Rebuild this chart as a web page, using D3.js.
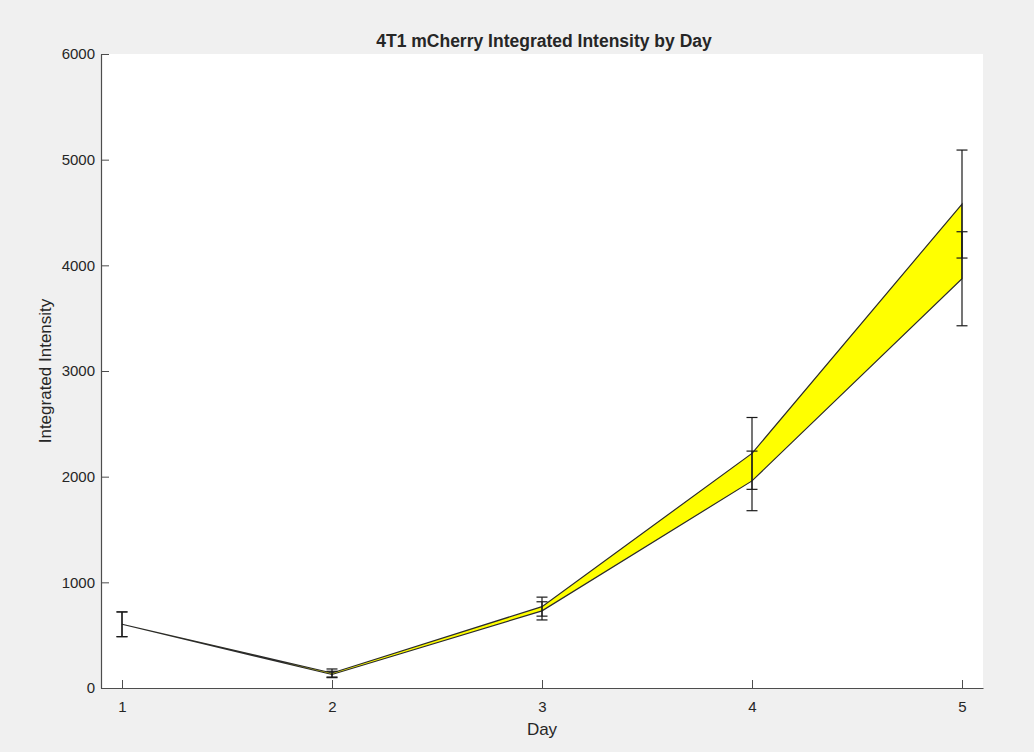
<!DOCTYPE html>
<html>
<head>
<meta charset="utf-8">
<script src="https://cdn.jsdelivr.net/npm/d3@7"></script>
<style>
  html, body { margin: 0; padding: 0; background: #f0f0f0; }
  svg { display: block; }
  text { font-family: "Liberation Sans", Arial, Helvetica, sans-serif; fill: #262626; }
</style>
</head>
<body>
<svg id="chart" width="1034" height="752"></svg>
<script>
// Days sampled
const days = [1, 2, 3, 4, 5];
// Upper series: mean and error half-width
const upperMean = [603, 142, 770, 2220, 4580];
const upperErr  = [117, 38, 90, 340, 511];
// Lower series: mean and error half-width
const lowerMean = [603, 128, 730, 1960, 3873];
const lowerErr  = [117, 30, 86, 282, 445];
// Axis ticks
const yTicks = [0, 1000, 2000, 3000, 4000, 5000, 6000];
const xTicks = [1, 2, 3, 4, 5];

const svg = d3.select("#chart");
const margin = { left: 101, right: 1034 - 983, top: 54, bottom: 752 - 688 };
const W = 1034, H = 752;
const innerW = W - margin.left - margin.right;
const innerH = H - margin.top - margin.bottom;

const x = d3.scaleLinear().domain([0.9, 5.1]).range([margin.left, margin.left + innerW]);
const y = d3.scaleLinear().domain([0, 6000]).range([margin.top + innerH, margin.top]);

// white plot area
svg.append("rect")
  .attr("x", margin.left).attr("y", margin.top)
  .attr("width", innerW).attr("height", innerH)
  .attr("fill", "#ffffff");

// band between the two series
const band = days.map((d, i) => ({ d, hi: upperMean[i], lo: lowerMean[i] }));
const area = d3.area()
  .x(p => x(p.d))
  .y0(p => y(p.lo))
  .y1(p => y(p.hi));
svg.append("path")
  .datum(band)
  .attr("d", area)
  .attr("fill", "#ffff00")
  .attr("stroke", "#2b2b2b")
  .attr("stroke-width", 1.2);

// error bars
function drawErrorBars(means, errs) {
  const g = svg.append("g").attr("stroke", "#1a1a1a").attr("stroke-width", 1.2).attr("fill", "none");
  const cap = 5.5;
  days.forEach((d, i) => {
    const cx = x(d);
    const top = y(means[i] + errs[i]);
    const bot = y(means[i] - errs[i]);
    g.append("line").attr("x1", cx).attr("x2", cx).attr("y1", top).attr("y2", bot);
    g.append("line").attr("x1", cx - cap).attr("x2", cx + cap).attr("y1", top).attr("y2", top);
    g.append("line").attr("x1", cx - cap).attr("x2", cx + cap).attr("y1", bot).attr("y2", bot);
  });
}
drawErrorBars(upperMean, upperErr);
drawErrorBars(lowerMean, lowerErr);

// axes (ticks pointing inward)
const tickLen = 8;
const xAxis = d3.axisBottom(x).tickValues(xTicks).tickFormat(d3.format("d"))
  .tickSizeInner(-tickLen).tickSizeOuter(0).tickPadding(13);
const yAxis = d3.axisLeft(y).tickValues(yTicks).tickFormat(d3.format("d"))
  .tickSizeInner(-tickLen).tickSizeOuter(0).tickPadding(6);

const gx = svg.append("g").attr("transform", `translate(0,${margin.top + innerH})`).call(xAxis);
const gy = svg.append("g").attr("transform", `translate(${margin.left},0)`).call(yAxis);
[gx, gy].forEach(g => {
  g.select(".domain").attr("stroke", "#4d4d4d").attr("stroke-width", 1.2);
  g.selectAll(".tick line").attr("stroke", "#4d4d4d").attr("stroke-width", 1);
  g.selectAll(".tick text").attr("font-size", 15)
    .attr("font-family", "'Liberation Sans', Arial, sans-serif").attr("fill", "#3a3a3a");
});
gy.selectAll(".tick text").attr("x", -6);

// titles
svg.append("text")
  .attr("x", margin.left + innerW / 2 + 2).attr("y", 47)
  .attr("text-anchor", "middle").attr("font-size", 17.5).attr("font-weight", "bold")
  .attr("fill", "#1a1a1a")
  .text("4T1 mCherry Integrated Intensity by Day");

svg.append("text")
  .attr("x", margin.left + innerW / 2).attr("y", 735)
  .attr("text-anchor", "middle").attr("font-size", 17).attr("fill", "#333333")
  .text("Day");

svg.append("text")
  .attr("transform", `translate(51,${margin.top + innerH / 2}) rotate(-90)`)
  .attr("text-anchor", "middle").attr("font-size", 17).attr("fill", "#333333")
  .text("Integrated Intensity");
</script>
</body>
</html>
